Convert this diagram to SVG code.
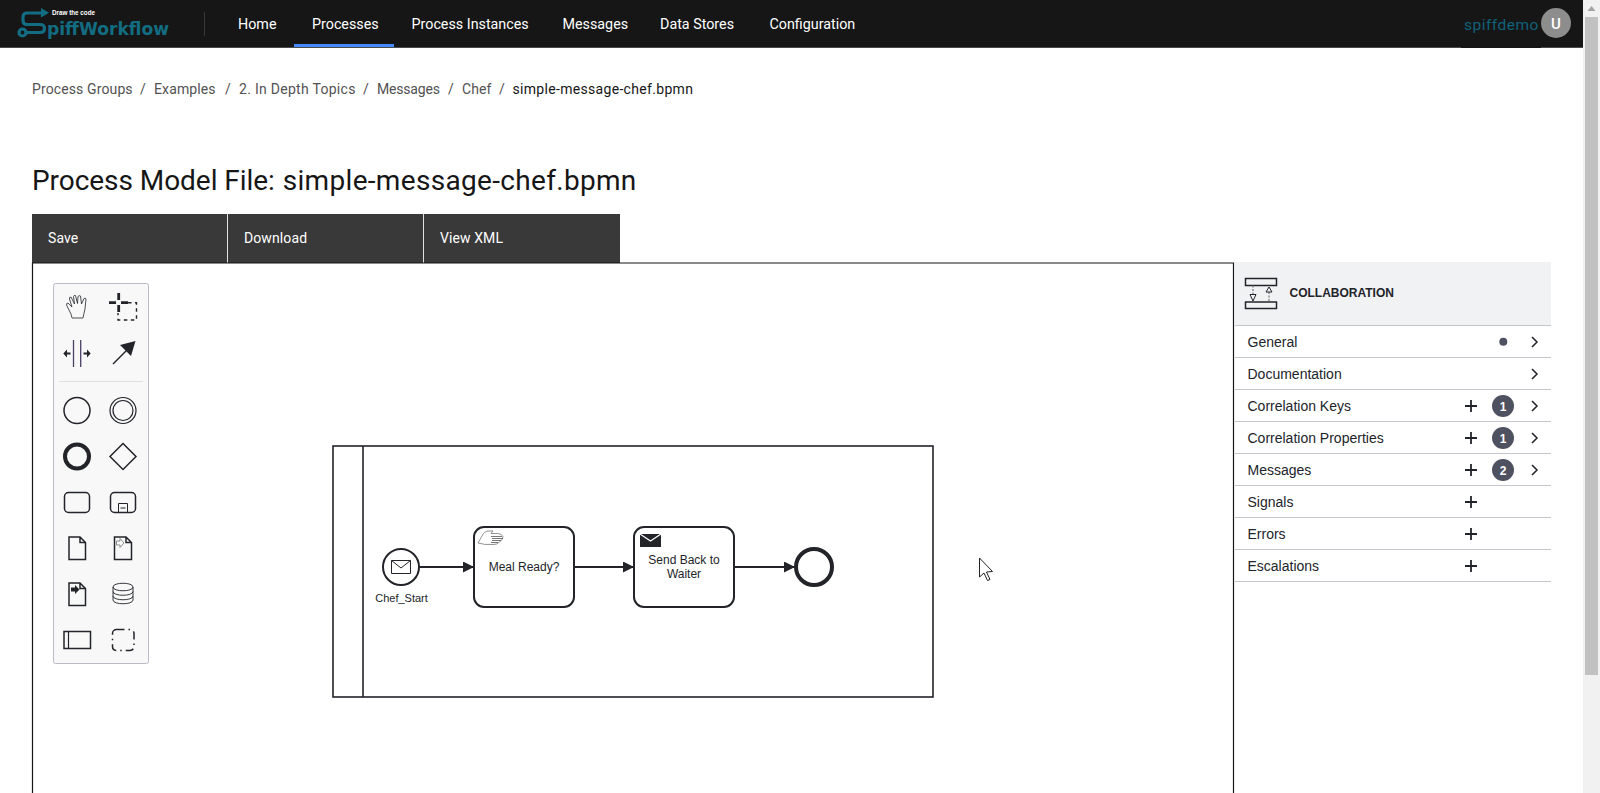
<svg xmlns="http://www.w3.org/2000/svg" width="1600" height="793" viewBox="0 0 1600 793">
<style>
.nav{font-family:"Roboto","Liberation Sans",sans-serif;font-size:14.3px;fill:#fff;letter-spacing:0}
.bc{font-family:"Roboto","Liberation Sans",sans-serif;font-size:14px;fill:#525252;letter-spacing:.12px}
.btn{font-family:"Roboto","Liberation Sans",sans-serif;font-size:14px;fill:#fff;letter-spacing:.1px}
.ttl{font-family:"Roboto","Liberation Sans",sans-serif;font-size:28px;fill:#161616}
.row{font-family:"Liberation Sans",sans-serif;font-size:14px;fill:#22242a}
.lbl{font-family:"Liberation Sans",sans-serif;font-size:12px;fill:#22242a;text-anchor:middle}
.sep{stroke:#c4c6cc;stroke-width:1}
.pal{fill:none;stroke:#22242a;stroke-width:1.5}
.sh{fill:#fff;stroke:#22242a;stroke-width:2}
.flow{fill:none;stroke:#22242a;stroke-width:2;marker-end:url(#arr)}
.ch{fill:none;stroke:#22242a;stroke-width:1.5}
.pl{stroke:#22242a;stroke-width:1.8;fill:none}
.bd{fill:#4d5160}
.bdt{font-family:"Liberation Sans",sans-serif;font-size:12px;font-weight:bold;fill:#fff;text-anchor:middle}
</style>
<defs>
<marker id="arr" markerWidth="12" markerHeight="12" refX="11" refY="5.5" orient="auto" markerUnits="userSpaceOnUse"><path d="M0 0L11 5.5L0 11Z" fill="#22242a"/></marker>
</defs>
<rect width="1600" height="793" fill="#fff"/>

<g id="header">
<rect width="1583" height="47" fill="#161616"/>
<rect y="47" width="1583" height="1" fill="#4a4a4a"/>
<rect x="1461" y="47" width="80" height="1" fill="#161616"/>
<g fill="none" stroke="#126d82" stroke-width="3.200">
<path d="M42 13H27Q23 13 23 17V20.500Q23 24.500 27 24.500H40Q44.500 24.500 44.500 28.500Q44.500 32.500 40 32.500H26"/>
<circle cx="22.500" cy="32.500" r="3.500"/>
</g>
<path d="M41 8L49 12.800L41 17.500Z" fill="#126d82"/>
<text x="52" y="15" font-family="Liberation Sans,sans-serif" font-size="7" font-weight="bold" fill="#fff" textLength="43" lengthAdjust="spacingAndGlyphs">Draw the code</text>
<text x="47" y="34.500" font-family="DejaVu Sans,sans-serif" font-size="18.500" font-weight="bold" fill="#126d82" textLength="122" lengthAdjust="spacingAndGlyphs">piffWorkflow</text>
<line x1="204.500" y1="12" x2="204.500" y2="36" stroke="#393939"/>
<text class="nav" x="238" y="29">Home</text>
<text class="nav" x="312" y="29">Processes</text>
<rect x="294" y="44" width="100" height="3" fill="#4589ff"/>
<text class="nav" x="411.500" y="29">Process Instances</text>
<text class="nav" x="562.500" y="29">Messages</text>
<text class="nav" x="660" y="29">Data Stores</text>
<text class="nav" x="769.500" y="29">Configuration</text>
<text x="1464" y="30" font-family="Roboto,Liberation Sans,sans-serif" font-size="15.500" letter-spacing=".5" fill="#10627a">spiffdemo</text>
<circle cx="1556" cy="23" r="15" fill="#8d8d8d"/>
<text x="1556" y="28.500" font-family="Roboto,Liberation Sans,sans-serif" font-size="15" font-weight="500" fill="#fff" text-anchor="middle">U</text>
</g>

<g id="scrollbar">
<rect x="1583" width="17" height="793" fill="#f1f1f1"/>
<rect x="1585" y="17" width="13" height="658" fill="#c1c1c1"/>
<path d="M1591.500 6L1595.500 11H1587.500Z" fill="#a3a3a3"/>
</g>

<g id="breadcrumb">
<text class="bc" x="32" y="94">Process Groups</text>
<text class="bc" x="140" y="94">/</text>
<text class="bc" x="154" y="94">Examples</text>
<text class="bc" x="225" y="94">/</text>
<text class="bc" x="239" y="94" textLength="116.500">2. In Depth Topics</text>
<text class="bc" x="363" y="94">/</text>
<text class="bc" x="377" y="94" textLength="63">Messages</text>
<text class="bc" x="448" y="94">/</text>
<text class="bc" x="462" y="94">Chef</text>
<text class="bc" x="499" y="94">/</text>
<text class="bc" x="512.500" y="94" style="fill:#161616" textLength="180.500">simple-message-chef.bpmn</text>
</g>

<g id="title">
<text class="ttl" x="32" y="190" letter-spacing="-.05">Process Model File:</text>
<text class="ttl" x="282.700" y="190" letter-spacing=".32">simple-message-chef.bpmn</text>
</g>

<g id="toolbar">
<rect x="32" y="214" width="588" height="49" fill="#393939"/>
<line x1="227.500" y1="214" x2="227.500" y2="263" stroke="#e0e0e0"/>
<line x1="423.500" y1="214" x2="423.500" y2="263" stroke="#e0e0e0"/>
<text class="btn" x="48" y="243">Save</text>
<text class="btn" x="244" y="243">Download</text>
<text class="btn" x="440" y="243">View XML</text>
</g>

<g id="canvas-frame" fill="none" stroke="#161616" stroke-width="1.200">
<path d="M32.500 793V263H1233.500V793"/>
</g>

<g id="palette">
<rect x="53.500" y="283.500" width="95" height="380" rx="2" fill="#f8f8f8" stroke="#b9bcc6"/>
<line x1="59" y1="381.500" x2="143" y2="381.500" stroke="#dfe0e3"/>
<path d="M71 314L67 306Q65.500 303 68 303L72 307L69.500 299Q69 297 71 297L74.500 304L73.500 296.500Q74 295 75.500 295.500L77.500 303.500L78 296.500Q79 295 80.500 296L81.500 304L84 298.500Q85.500 297.500 86 299L85 309Q84 313 83 318H72Z" fill="none" stroke="#22242a" stroke-width=".8"/>
<path d="M118.700 293V300M118.700 305V312M109 302.700H116M121 302.700H128" fill="none" stroke="#22242a" stroke-width="2.800"/>
<path d="M128 302.700H136.500V320H118V313" fill="none" stroke="#22242a" stroke-width="1.400" stroke-dasharray="3.500 3.500"/>
<path d="M73.500 340V367M80.700 340V367" fill="none" stroke="#4b4066" stroke-width="1.300"/>
<path d="M63.300 353.500L67 349.500V352.500H70.500V354.500H67V357.500ZM90.700 353.500L87 349.500V352.500H83.500V354.500H87V357.500Z" fill="#22242a"/>
<path d="M113 364L130 347" fill="none" stroke="#22242a" stroke-width="1.500"/>
<path d="M135.500 341L131 356L120 345Z" fill="#22242a"/>
<circle class="pal" cx="77" cy="410.500" r="13"/>
<circle cx="123" cy="410.500" r="13" fill="none" stroke="#22242a" stroke-width="1.200"/>
<circle cx="123" cy="410.500" r="10" fill="none" stroke="#22242a" stroke-width="1.200"/>
<circle cx="77" cy="456.500" r="12" fill="none" stroke="#22242a" stroke-width="4"/>
<path class="pal" d="M123 443.500L136 456.500L123 469.500L110 456.500Z"/>
<rect class="pal" x="64.500" y="492.500" width="25" height="20" rx="4"/>
<rect class="pal" x="110.500" y="492.500" width="25" height="20" rx="4"/>
<path d="M118.500 512.500V503.500H127.500V512.500M120.500 508H125.500" fill="none" stroke="#22242a"/>
<path class="pal" d="M69 537H80L85.500 542.500V559.500H69ZM80 537V542.500H85.500"/>
<path class="pal" d="M114.500 537H126L131.500 542.500V559.500H114.500ZM126 537V542.500H131.500"/>
<path d="M116.500 541H120V538.500L124 543L120 547.500V545H116.500Z" fill="none" stroke="#8f8f8f"/>
<path class="pal" d="M69 583H80L85.500 588.500V605.500H69ZM80 583V588.500H85.500"/>
<path d="M71 587.500H75V585L79.500 589.500L75 594V591.500H71Z" fill="#22242a"/>
<path d="M113 587C113 582 133 582 133 587V600C133 605 113 605 113 600ZM113 587C113 592 133 592 133 587M113 591.500C113 596.500 133 596.500 133 591.500M113 596C113 601 133 601 133 596" fill="none" stroke="#22242a" stroke-width=".9"/>
<rect class="pal" x="64" y="631.500" width="26.500" height="17"/>
<line x1="68.500" y1="631.500" x2="68.500" y2="648.500" stroke="#22242a" stroke-width="1.200"/>
<rect x="112.500" y="629.500" width="21.500" height="21" rx="4" fill="none" stroke="#22242a" stroke-width="1.500" stroke-dasharray="8 4 1.500 4"/>
</g>

<g id="pool">
<rect x="333" y="446" width="600" height="251" fill="#fff" stroke="#22242a" stroke-width="1.600"/>
<line x1="363" y1="446" x2="363" y2="697" stroke="#22242a" stroke-width="1.600"/>
</g>

<g id="connectors">
<path class="flow" d="M419 567H474"/>
<path class="flow" d="M574 567H634"/>
<path class="flow" d="M734 567H795"/>
</g>

<g id="Chef_Start">
<circle class="sh" cx="401" cy="567" r="18"/>
<path d="M391.500 560.500H410.500V573.500H391.500ZM391.500 560.500L401 568L410.500 560.500" fill="none" stroke="#22242a" stroke-width="1"/>
<text class="lbl" x="401.500" y="602" style="font-size:11px">Chef_Start</text>
</g>

<g id="Meal_Ready">
<rect class="sh" x="474" y="527" width="100" height="80" rx="10"/>
<path d="M478 543L482 536Q484 531 489 531H493L491 533.500H498Q502 534 503 536.500Q503 540 500 541.500Q497 545 493 544.500Q484 545 478 543Z" fill="#fff" stroke="#777" stroke-width=".8"/>
<path d="M491 536.500H502M492 538.500H503M492 540.500H501M491 542.500H498" fill="none" stroke="#555" stroke-width=".8"/>
<text class="lbl" x="524" y="571">Meal Ready?</text>
</g>

<g id="Send_Back">
<rect class="sh" x="634" y="527" width="100" height="80" rx="10"/>
<rect x="640" y="534" width="21" height="13" fill="#22242a"/>
<path d="M640 534L650.500 541L661 534" fill="none" stroke="#fff" stroke-width="1.200"/>
<text class="lbl" x="684" y="564">Send Back to</text>
<text class="lbl" x="684" y="578">Waiter</text>
</g>

<g id="End">
<circle cx="814" cy="567" r="18" fill="#fff" stroke="#22242a" stroke-width="4"/>
</g>

<g id="properties">
<rect x="1235" y="262" width="316" height="63.500" fill="#f1f2f4"/>
<path d="M1245.500 278.500H1276.500V285.500H1245.500ZM1245.500 302H1276.500V308.500H1245.500Z" fill="none" stroke="#22242a" stroke-width="1.500"/>
<path d="M1253 285.500V294M1269 292V302" fill="none" stroke="#777" stroke-width="1.200" stroke-dasharray="2 1.500"/>
<path d="M1250 294.500H1256L1253 301ZM1266 292H1272L1269 287Z" fill="none" stroke="#22242a"/>
<text x="1289.500" y="297" font-family="Liberation Sans,sans-serif" font-size="12" font-weight="bold" fill="#22242a">COLLABORATION</text>
<g class="sep">
<line x1="1235" y1="325.500" x2="1551" y2="325.500"/>
<line x1="1235" y1="357.500" x2="1551" y2="357.500"/>
<line x1="1235" y1="389.500" x2="1551" y2="389.500"/>
<line x1="1235" y1="421.500" x2="1551" y2="421.500"/>
<line x1="1235" y1="453.500" x2="1551" y2="453.500"/>
<line x1="1235" y1="485.500" x2="1551" y2="485.500"/>
<line x1="1235" y1="517.500" x2="1551" y2="517.500"/>
<line x1="1235" y1="549.500" x2="1551" y2="549.500"/>
<line x1="1235" y1="581.500" x2="1551" y2="581.500"/>
</g>
<text class="row" x="1247.500" y="347">General</text>
<text class="row" x="1247.500" y="379">Documentation</text>
<text class="row" x="1247.500" y="411">Correlation Keys</text>
<text class="row" x="1247.500" y="443">Correlation Properties</text>
<text class="row" x="1247.500" y="475">Messages</text>
<text class="row" x="1247.500" y="507">Signals</text>
<text class="row" x="1247.500" y="539">Errors</text>
<text class="row" x="1247.500" y="571">Escalations</text>
<circle cx="1503.300" cy="341.700" r="4" class="bd"/>
<path class="ch" d="M1532 337L1537 342L1532 347M1532 369L1537 374L1532 379M1532 401L1537 406L1532 411M1532 433L1537 438L1532 443M1532 465L1537 470L1532 475"/>
<path class="pl" d="M1465 406H1477M1471 400V412M1465 438H1477M1471 432V444M1465 470H1477M1471 464V476M1465 502H1477M1471 496V508M1465 534H1477M1471 528V540M1465 566H1477M1471 560V572"/>
<circle cx="1503" cy="406" r="11" class="bd"/><text class="bdt" x="1503" y="410.500">1</text>
<circle cx="1503" cy="438" r="11" class="bd"/><text class="bdt" x="1503" y="442.500">1</text>
<circle cx="1503" cy="470" r="11" class="bd"/><text class="bdt" x="1503" y="474.500">2</text>
</g>

<path id="cursor" d="M979.500 558V577L984 573L987.500 580.500L990 579.500L986.500 572L992.500 571.500Z" fill="#fff" stroke="#222" stroke-width="1"/>
</svg>
